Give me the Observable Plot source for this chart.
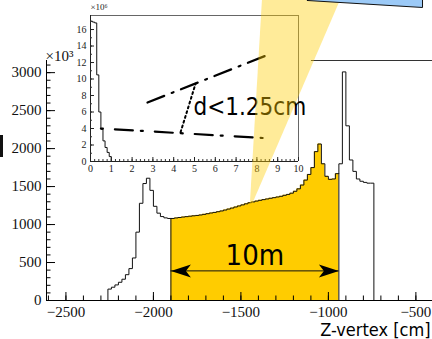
<!DOCTYPE html>
<html>
<head>
<meta charset="utf-8">
<script src="https://cdn.jsdelivr.net/npm/d3@7"></script>
<script src="https://cdn.jsdelivr.net/npm/@observablehq/plot@0.6"></script>
<style>
  html, body { margin: 0; padding: 0; background: #fff; }
  #fig { position: relative; width: 432px; height: 339px; overflow: hidden; background: #fff; }
  #fig > svg { position: absolute; left: 0; top: 0; }
  #edge { position: absolute; left: 0; top: 135px; width: 3px; height: 22px; background: #111; }
</style>
</head>
<body>
<div id="fig"><div id="edge"></div></div>
<script>
// ---- Z-vertex distribution: 20 cm bins from -2260 cm (entries, x10^3) ----
const binStart = -2260;
const binWidth = 20;
const zCounts = [
  150, 175, 205, 240, 280, 340, 420, 560, 900, 1280,
  1540, 1610, 1450, 1240, 1150, 1105, 1088, 1080,
  1080, 1087, 1093, 1099, 1104, 1110, 1115, 1120, 1126, 1134,
  1143, 1152, 1160, 1169, 1179, 1191, 1204, 1217, 1231, 1245,
  1259, 1273, 1287, 1298, 1309, 1319, 1328, 1337, 1346, 1354,
  1363, 1372, 1385, 1397, 1413, 1438, 1470, 1520, 1585, 1660,
  1750, 1960, 2060, 1800, 1635, 1595, 1600, 1670,
  1800, 3010, 2300, 1850, 1700, 1600, 1570, 1555, 1545, 1545
];
// fiducial decay region (cm)
const fiducial = [-1900, -940];
const arrowLevel = 390;

// axis ticks of the main frame
const xDomain = [-2611, -405];
const yDomain = [0, 3160];
const xMajor = [-2500, -2000, -1500, -1000, -500];
const xMinor = d3.range(-2600, -450, 100);
const yMajor = [0, 500, 1000, 1500, 2000, 2500, 3000];
const yMinor = d3.range(0, 3150, 100);

// ---- inset: distance of closest approach, 0.1 cm bins (entries, x10^6) ----
const dcaStart = 0;
const dcaWidth = 0.1;
const dcaCounts = [17.0, 16.9, 16.8, 10.5, 6.0, 3.9, 2.5, 1.7, 1.1, 0.6];
const dcaDomainX = [0, 10];
const dcaDomainY = [0, 17.7];
const dcaMajorX = d3.range(0, 11, 1);
const dcaMinorX = d3.range(0, 10.01, 0.2);
const dcaMajorY = d3.range(0, 17, 2);
const dcaMinorY = d3.range(0, 17.5, 1);

// sketch of two tracks and their distance (inset units)
const trackA = [{x: 2.74, y: 7.15}, {x: 8.6, y: 13.0}];
const trackB = [{x: 0.5, y: 4.0}, {x: 8.6, y: 2.8}];
const dcaLink = [{x: 4.33, y: 3.55}, {x: 5.05, y: 9.42}];

// beam cone and detector outline (main-frame units)
const beamCone = [{y: 1185, x1: -1448, x2: -1448}, {y: 3950, x1: -1377, x2: -931}];
const detector = [{x: -1120, y: 3950}, {x: -462, y: 3858}, {x: -462, y: 4400}, {x: -1120, y: 4400}, {x: -1120, y: 3950}];

// ------------------------------------------------------------------
const serif = "'Liberation Serif', 'DejaVu Serif', serif";
const sans = "'DejaVu Sans Condensed', 'DejaVu Sans', sans-serif";
const yellow = "#ffcc00";
const svgStyle = "background: transparent; overflow: visible;";

const binEnd = binStart + zCounts.length * binWidth;
const edges = zCounts.map((_, i) => binStart + i * binWidth);
const histPts = [
  {x: binStart, y: 0},
  ...zCounts.map((c, i) => ({x: edges[i], y: c})),
  {x: binEnd, y: zCounts[zCounts.length - 1]},
  {x: binEnd, y: 0}
];
const i0 = Math.round((fiducial[0] - binStart) / binWidth);
const i1 = Math.round((fiducial[1] - binStart) / binWidth);
const fidPts = [
  ...zCounts.slice(i0, i1).map((c, k) => ({x: edges[i0 + k], y: c})),
  {x: fiducial[1], y: zCounts[i1 - 1]}
];
const fidEdges = [{x: fiducial[0], y: zCounts[i0]}, {x: fiducial[1], y: zCounts[i1 - 1]}];
const lengthLabel = `${Math.round((fiducial[1] - fiducial[0]) / 100)}m`;

// filled stealth arrow head, tip at the origin, pointing to +x
const stealth = {
  draw(ctx) {
    ctx.moveTo(0, 0);
    ctx.lineTo(-20, -6.5);
    ctx.lineTo(-15, 0);
    ctx.lineTo(-20, 6.5);
    ctx.closePath();
  }
};

// inward ticks: full-frame rules shrunk to the wanted length
const ticksX = (ticks, size, frameH, stroke) =>
  Plot.ruleX(ticks, {insetTop: frameH - size, stroke, strokeWidth: 1});
const ticksY = (ticks, size, frameW, stroke) =>
  Plot.ruleY(ticks, {insetRight: frameW - size, stroke, strokeWidth: 1});

const frame = {
  width: 432, height: 339,
  marginLeft: 46, marginRight: 0, marginTop: 60, marginBottom: 39,
  x: {domain: xDomain, label: null, axis: null},
  y: {domain: yDomain, label: null, axis: null},
  style: svgStyle
};
const mainW = frame.width - frame.marginLeft - frame.marginRight;
const mainH = frame.height - frame.marginTop - frame.marginBottom;

const main = Plot.plot({
  ...frame,
  marks: [
    // fiducial region
    Plot.areaY(fidPts, {x: "x", y: "y", curve: "step-after", fill: yellow}),
    Plot.ruleX(fidEdges, {x: "x", y1: 0, y2: "y", stroke: "#111", strokeWidth: 1}),
    // histogram outline
    Plot.line(histPts, {x: "x", y: "y", curve: "step-after", stroke: "#111", strokeWidth: 1}),
    // 10 m arrow
    Plot.ruleY([arrowLevel], {x1: fiducial[0], x2: fiducial[1], stroke: "#111", strokeWidth: 1}),
    Plot.dot([{x: fiducial[0], a: 180}, {x: fiducial[1], a: 0}],
      {x: "x", y: arrowLevel, rotate: "a", symbol: stealth, fill: "#000", stroke: "none"}),
    Plot.text([lengthLabel], {x: (fiducial[0] + fiducial[1]) / 2, y: 474, text: d => d,
      textAnchor: "middle", lineAnchor: "bottom", fontSize: 29, fontFamily: sans, fill: "#000"}),
    // frame
    Plot.ruleY([yDomain[1]], {x1: -1097, x2: xDomain[1], stroke: "#333", strokeWidth: 1}),
    Plot.ruleY([0], {stroke: "#000", strokeWidth: 1}),
    Plot.ruleX([xDomain[0]], {stroke: "#000", strokeWidth: 1}),
    // x axis
    ticksX(xMinor, 4.5, mainH, "#000"),
    ticksX(xMajor, 8, mainH, "#000"),
    Plot.axisX({ticks: xMajor, tickSize: 0, tickPadding: 6, tickFormat: d3.format("d"),
      fontSize: 15, fontFamily: serif, fill: "#111"}),
    // y axis
    ticksY(yMinor, 4.5, mainW, "#000"),
    ticksY(yMajor, 9, mainW, "#000"),
    Plot.axisY({ticks: yMajor, tickSize: 0, tickPadding: 5, tickFormat: d3.format("d"),
      fontSize: 15, fontFamily: serif, fill: "#111"}),
    Plot.text(["×10³"], {frameAnchor: "top-left", dx: -1, dy: 0, text: d => d,
      textAnchor: "start", lineAnchor: "bottom", fontSize: 15, fontFamily: serif, fill: "#111"}),
    Plot.text(["Z-vertex [cm]"], {frameAnchor: "bottom-right", dx: -2, dy: 35, text: d => d,
      textAnchor: "end", lineAnchor: "bottom", fontSize: 18, fontFamily: sans, fill: "#000"})
  ]
});

// inset histogram
const dcaEnd = dcaStart + dcaCounts.length * dcaWidth;
const dcaPts = [
  {x: dcaStart, y: 0},
  ...dcaCounts.map((c, i) => ({x: dcaStart + i * dcaWidth, y: c})),
  {x: dcaEnd, y: dcaCounts[dcaCounts.length - 1]},
  {x: dcaEnd, y: 0}
];

const insetFrame = {width: 432, height: 339, marginLeft: 90, marginRight: 134, marginTop: 15, marginBottom: 178};
const insetW = insetFrame.width - insetFrame.marginLeft - insetFrame.marginRight;
const insetH = insetFrame.height - insetFrame.marginTop - insetFrame.marginBottom;

const inset = Plot.plot({
  ...insetFrame,
  x: {domain: dcaDomainX, label: null, axis: null},
  y: {domain: dcaDomainY, label: null, axis: null},
  style: svgStyle,
  marks: [
    Plot.ruleY([dcaDomainY[1]], {stroke: "#666", strokeWidth: 1}),
    Plot.ruleX([dcaDomainX[1]], {stroke: "#666", strokeWidth: 1}),
    Plot.line(dcaPts, {x: "x", y: "y", curve: "step-after", stroke: "#111", strokeWidth: 1}),
    Plot.ruleY([0], {stroke: "#222", strokeWidth: 1}),
    Plot.ruleX([0], {stroke: "#222", strokeWidth: 1}),
    ticksX(dcaMinorX, 2, insetH, "#333"),
    ticksX(dcaMajorX, 4, insetH, "#222"),
    Plot.axisX({ticks: dcaMajorX, tickSize: 0, tickPadding: 3, tickFormat: d3.format("d"),
      fontSize: 10, fontFamily: serif, fill: "#222"}),
    ticksY(dcaMinorY, 2, insetW, "#333"),
    ticksY(dcaMajorY, 4, insetW, "#222"),
    Plot.axisY({ticks: dcaMajorY, tickSize: 0, tickPadding: 4, tickFormat: d3.format("d"),
      fontSize: 10, fontFamily: serif, fill: "#222"}),
    Plot.text(["×10⁶"], {frameAnchor: "top-left", dx: 0, dy: -6, text: d => d,
      textAnchor: "start", lineAnchor: "bottom", fontSize: 9, fontFamily: serif, fill: "#222"}),
    // track sketch
    Plot.line(trackA, {x: "x", y: "y", stroke: "#000", strokeWidth: 2.2, strokeDasharray: "18,8,2,8"}),
    Plot.line(trackB, {x: "x", y: "y", stroke: "#000", strokeWidth: 2.2, strokeDasharray: "2,12,18,8"}),
    Plot.line(dcaLink, {x: "x", y: "y", stroke: "#000", strokeWidth: 2, strokeDasharray: "2,3"}),
    Plot.text(["d<1.25cm"], {x: 4.95, y: 5.58, text: d => d, textAnchor: "start", lineAnchor: "bottom",
      fontSize: 24, fontFamily: sans, fill: "#000"})
  ]
});

// beam cone and detector drawn above everything
const overlay = Plot.plot({
  ...frame,
  marks: [
    Plot.areaX(beamCone, {y: "y", x1: "x1", x2: "x2", fill: yellow, fillOpacity: 0.4}),
    Plot.line(detector, {x: "x", y: "y", fill: "#9ccaf7", stroke: "#111", strokeWidth: 1})
  ]
});

const fig = document.getElementById("fig");
fig.append(main, inset, overlay);
</script>
</body>
</html>
